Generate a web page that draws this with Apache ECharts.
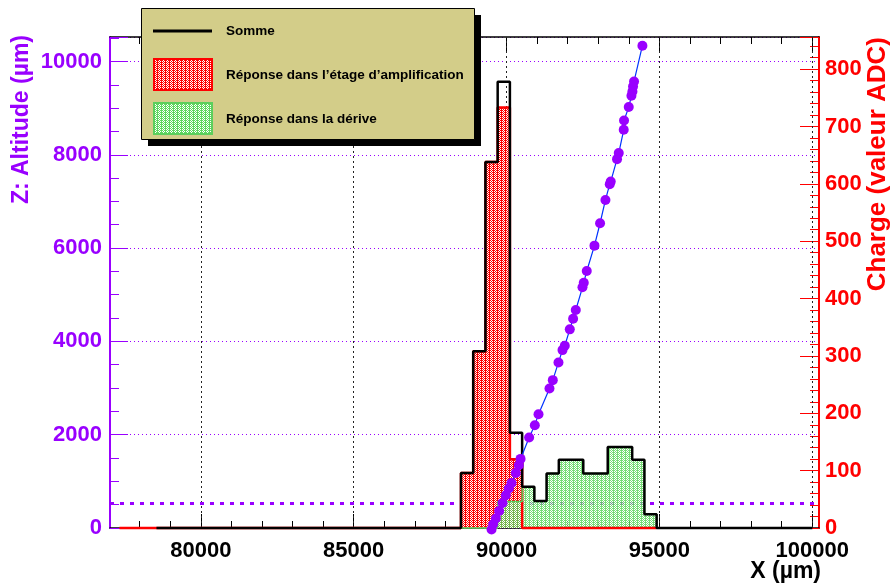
<!DOCTYPE html>
<html>
<head>
<meta charset="utf-8">
<script src="https://cdn.jsdelivr.net/npm/echarts@6/dist/echarts.min.js"></script>
<style>
  html, body { margin: 0; padding: 0; background: #fff; }
  #content { width: 891px; height: 585px; }
</style>
</head>
<body>
<div id="content"></div>
<script>
// bornes des bins (µm) et charges (ADC)
var binEdges = [88510, 88910, 89310, 89710, 90110, 90510, 90910, 91310, 91710, 92110, 92510, 92910, 93310, 93710, 94110, 94510, 94910];
var sumCharge = [96, 308, 638, 778, 166, 72, 47, 95, 119, 119, 95, 95, 141, 141, 119, 24];
var ampCharge = [96, 308, 638, 733, 120, 0, 0, 0, 0, 0, 0, 0, 0, 0, 0, 0];
var driftCharge = [0, 0, 0, 46, 46, 72, 47, 95, 119, 119, 95, 95, 141, 141, 119, 24];
var sumRange = [78550, 100000];
var ampRange = [77340, 94910];
var driftRange = [88510, 94910];

// points de la trace: X (µm), Z (µm)
var trackX = [89510, 89562, 89650, 89758, 89869, 89977, 90075, 90163, 90304, 90402, 90458, 90739, 90925, 91046, 91405, 91513, 91699, 91830, 91905, 92069, 92177, 92265, 92484, 92526, 92624, 92876, 93059, 93235, 93376, 93408, 93614, 93670, 93833, 93843, 93997, 94085, 94118, 94137, 94170, 94444];
var trackZ = [-34, 79, 202, 365, 537, 702, 845, 966, 1180, 1346, 1481, 1940, 2204, 2440, 2991, 3169, 3549, 3813, 3906, 4258, 4485, 4672, 5159, 5258, 5509, 6052, 6532, 7032, 7369, 7425, 7906, 8035, 8535, 8734, 9022, 9264, 9357, 9464, 9571, 10337];

var thresholdZ = 530;
var xMajor = [80000, 85000, 90000, 95000, 100000];
var xMinor = [78000, 79000, 81000, 82000, 83000, 84000, 86000, 87000, 88000, 89000, 91000, 92000, 93000, 94000, 96000, 97000, 98000, 99000];
var xMin = 77030, xMax = 100220;
var zMax = 10524, qMax = 856;

var violet = '#9900ff';
var font = "'Liberation Sans', Arial, Helvetica, sans-serif";

// motif hachuré (style ROOT 3001)
function makePattern(color, cells) {
    var c = document.createElement('canvas');
    c.width = 4; c.height = 2;
    var g = c.getContext('2d');
    g.fillStyle = '#ffffff';
    g.fillRect(0, 0, 4, 2);
    g.fillStyle = color;
    cells.forEach(function (p) { g.fillRect(p[0], p[1], 1, 1); });
    return { image: c, repeat: 'repeat' };
}
var redPattern = makePattern('#ff0000', [[0, 0], [1, 0], [2, 0], [1, 1], [3, 1]]);
var greenPattern = makePattern('#5ed85e', [[0, 0], [1, 0], [2, 0], [1, 1], [3, 1]]);

// histogramme -> points pour une ligne en escalier
function stepData(range, edges, vals) {
    var pts = [[range[0], 0]];
    for (var i = 0; i < vals.length; i++) pts.push([edges[i], vals[i]]);
    pts.push([edges[edges.length - 1], 0]);
    if (range[1] > edges[edges.length - 1]) pts.push([range[1], 0]);
    return pts;
}

var track = trackX.map(function (x, i) { return [x, trackZ[i]]; });

var chart = echarts.init(document.getElementById('content'));

function xAxisDef(pos, ticks, len, showLine, showLabel) {
    return {
        type: 'value', position: pos, min: xMin, max: xMax, z: 0,
        axisLine: { show: showLine, onZero: false, lineStyle: { color: '#000', width: 1.5 } },
        axisTick: { show: true, inside: true, length: len, customValues: ticks, lineStyle: { color: '#000', width: 1 } },
        axisLabel: {
            show: showLabel, customValues: ticks, margin: 12,
            color: '#000', fontSize: 22, fontWeight: 'bold', fontFamily: font,
            formatter: function (v) { return String(v); }
        },
        splitLine: { show: false }
    };
}

var option = {
    animation: false,
    backgroundColor: '#fff',
    grid: { left: 110, right: 72, top: 37, bottom: 57 },
    xAxis: [
        xAxisDef('bottom', xMajor, 14, true, true),
        xAxisDef('bottom', xMinor, 7, false, false),
        xAxisDef('top', xMajor, 14, true, false),
        xAxisDef('top', xMinor, 7, false, false)
    ],
    yAxis: [
        {
            type: 'value', position: 'left', min: 0, max: zMax, interval: 2000, z: 0,
            axisLine: { show: true, lineStyle: { color: violet, width: 2 } },
            axisTick: { inside: true, length: 18, lineStyle: { color: violet } },
            minorTick: { show: true, splitNumber: 4, length: 9, lineStyle: { color: violet } },
            axisLabel: {
                margin: 8, color: violet, fontSize: 22, fontWeight: 'bold', fontFamily: font,
                showMaxLabel: false, formatter: function (v) { return String(v); }
            },
            splitLine: { show: true, lineStyle: { color: violet, type: [1, 3], width: 1 } }
        },
        {
            type: 'value', position: 'right', min: 0, max: qMax, interval: 100, z: 0,
            axisLine: { show: true, lineStyle: { color: '#ff0000', width: 2 } },
            axisTick: { inside: true, length: 19, lineStyle: { color: '#ff0000' } },
            minorTick: { show: true, splitNumber: 5, length: 9, lineStyle: { color: '#ff0000' } },
            axisLabel: {
                margin: 6, color: '#ff0000', fontSize: 22, fontWeight: 'bold', fontFamily: font,
                showMaxLabel: false, formatter: function (v) { return String(v); }
            },
            splitLine: { show: false }
        }
    ],
    series: [
        {
            name: 'grille', type: 'line', data: [], z: 1, silent: true,
            markLine: {
                silent: true, symbol: 'none', label: { show: false },
                lineStyle: { color: '#222', type: [2, 3], width: 1 },
                data: xMajor.map(function (v) { return { xAxis: v }; })
            }
        },
        {
            name: 'ampArea', type: 'line', step: 'end', data: stepData(ampRange, binEdges, ampCharge),
            xAxisIndex: 0, yAxisIndex: 1, symbol: 'none', z: 11, clip: false,
            lineStyle: { width: 0 }, areaStyle: { color: redPattern, opacity: 1 }
        },
        {
            name: 'driftArea', type: 'line', step: 'end', data: stepData(driftRange, binEdges, driftCharge),
            xAxisIndex: 0, yAxisIndex: 1, symbol: 'none', z: 12, clip: false,
            lineStyle: { width: 0 }, areaStyle: { color: greenPattern, opacity: 0.85 }
        },
        {
            name: 'Réponse dans l’étage d’amplification', type: 'line', step: 'end',
            data: stepData(ampRange, binEdges, ampCharge),
            xAxisIndex: 0, yAxisIndex: 1, symbol: 'none', z: 13, clip: false,
            lineStyle: { color: '#ff0000', width: 2.5 }
        },
        {
            name: 'Réponse dans la dérive', type: 'line', step: 'end',
            data: stepData(driftRange, binEdges, driftCharge),
            xAxisIndex: 0, yAxisIndex: 1, symbol: 'none', z: 14, clip: false,
            lineStyle: { color: '#5ccf5c', width: 1.5 }
        },
        {
            name: 'Somme', type: 'line', step: 'end', data: stepData(sumRange, binEdges, sumCharge),
            xAxisIndex: 0, yAxisIndex: 1, symbol: 'none', z: 15, clip: false,
            lineStyle: { color: '#000', width: 2.5 }
        },
        {
            name: 'trace', type: 'line', data: track, xAxisIndex: 0, yAxisIndex: 0,
            symbol: 'circle', symbolSize: 10, z: 16, clip: false,
            itemStyle: { color: violet },
            lineStyle: { color: '#0033ff', width: 1.2 },
            markLine: {
                silent: true, symbol: 'none', label: { show: false },
                lineStyle: { color: violet, type: [4, 6], width: 3 },
                data: [{ yAxis: thresholdZ }]
            }
        }
    ],
    graphic: [
        // titres des axes
        {
            type: 'text', x: 22, y: 35, rotation: Math.PI / 2, z: 50,
            style: { text: 'Z: Altitude (µm)', fill: violet, font: 'bold 23px ' + font, textAlign: 'right', textVerticalAlign: 'middle' }
        },
        {
            type: 'text', x: 878, y: 37, rotation: Math.PI / 2, z: 50,
            style: { text: 'Charge (valeur ADC)', fill: '#ff0000', font: 'bold 26px ' + font, textAlign: 'right', textVerticalAlign: 'middle' }
        },
        {
            type: 'text', x: 821, y: 572, z: 50,
            style: { text: 'X (µm)', fill: '#000', font: 'bold 23px ' + font, textAlign: 'right', textVerticalAlign: 'middle' }
        },
        // légende
        { type: 'rect', z: 100, shape: { x: 148, y: 15, width: 333, height: 131 }, style: { fill: '#000' } },
        { type: 'rect', z: 101, shape: { x: 141.5, y: 8.5, width: 333, height: 131 }, style: { fill: '#d3cd89', stroke: '#000', lineWidth: 1 } },
        { type: 'line', z: 102, shape: { x1: 153, y1: 31, x2: 212, y2: 31 }, style: { stroke: '#000', lineWidth: 3 } },
        { type: 'rect', z: 102, shape: { x: 154, y: 59, width: 58, height: 31 }, style: { fill: redPattern, stroke: '#ff0000', lineWidth: 2 } },
        { type: 'rect', z: 102, shape: { x: 154, y: 103, width: 58, height: 31 }, style: { fill: greenPattern, stroke: '#5ccf5c', lineWidth: 2 } },
        { type: 'text', z: 102, x: 226, y: 31, style: { text: 'Somme', fill: '#000', font: 'bold 13.5px ' + font, textVerticalAlign: 'middle' } },
        { type: 'text', z: 102, x: 226, y: 75, style: { text: 'Réponse dans l’étage d’amplification', fill: '#000', font: 'bold 13.5px ' + font, textVerticalAlign: 'middle' } },
        { type: 'text', z: 102, x: 226, y: 119, style: { text: 'Réponse dans la dérive', fill: '#000', font: 'bold 13.5px ' + font, textVerticalAlign: 'middle' } }
    ]
};

chart.setOption(option);
</script>
</body>
</html>
